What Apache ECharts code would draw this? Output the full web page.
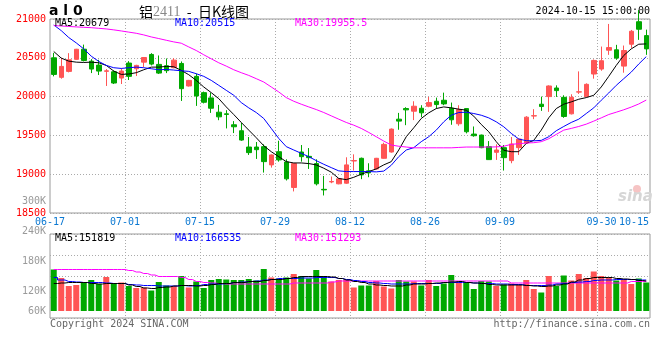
<!DOCTYPE html>
<html><head><meta charset="utf-8">
<script src="https://cdn.jsdelivr.net/npm/echarts@6/dist/echarts.min.js"></script>
<style>html,body{margin:0;padding:0;background:#fff}#c{width:660px;height:360px}</style>
</head><body><div id="c"></div>
<script>
// ---------- data ----------
const dates = ['06-17','06-18','06-19','06-20','06-21','06-24','06-25','06-26','06-27','06-28',
'07-01','07-02','07-03','07-04','07-05','07-08','07-09','07-10','07-11','07-12',
'07-15','07-16','07-17','07-18','07-19','07-22','07-23','07-24','07-25','07-26',
'07-29','07-30','07-31','08-01','08-02','08-05','08-06','08-07','08-08','08-09',
'08-12','08-13','08-14','08-15','08-16','08-19','08-20','08-21','08-22','08-23',
'08-26','08-27','08-28','08-29','08-30','09-02','09-03','09-04','09-05','09-06',
'09-09','09-10','09-11','09-12','09-13','09-18','09-19','09-20','09-23','09-24',
'09-25','09-26','09-27','09-30','10-08','10-09','10-10','10-11','10-14','10-15'];

const opens = [20500,20248,20325,20480,20611,20457,20406,20326,20320,20239,
20432,20359,20444,20543,20415,20398,20372,20427,20137,20261,
20051,19983,19799,19778,19637,19560,19350,19350,19355,19120,
19290,19158,18829,19286,19230,19137,18805,18900,18876,18884,
19170,19205,19043,19068,19205,19286,19709,19846,19812,19850,
19876,19940,19953,19850,19650,19846,19517,19504,19355,19282,
19342,19175,19342,19402,19750,19902,20000,20111,19991,19778,
20058,20000,20291,20355,20598,20603,20393,20675,20965,20786];
const closes = [20286,20389,20474,20610,20466,20355,20329,20332,20175,20329,
20261,20402,20504,20419,20303,20334,20470,20102,20209,20008,
19927,19850,19739,19770,19611,19440,19278,19316,19162,19248,
19184,18940,19137,19226,19213,18876,18798,18906,18940,19120,
19176,18991,19017,19205,19384,19581,19684,19829,19876,19791,
19923,19897,19906,19701,19833,19547,19496,19342,19188,19312,
19213,19389,19453,19735,19754,19872,20137,20077,19744,19991,
20062,20158,20466,20462,20632,20496,20594,20842,20868,20615];
const lows = [20261,20231,20312,20475,20453,20303,20278,20137,20162,20162,
20214,20265,20380,20402,20291,20303,20365,19944,20130,19880,
19912,19790,19696,19590,19530,19430,19248,19197,19021,19085,
19162,18919,18778,19162,19068,18855,18726,18884,18870,18876,
19047,18936,18961,19060,19200,19278,19573,19632,19697,19735,
19863,19846,19889,19637,19624,19526,19483,19335,19185,19184,
19047,19141,19248,19395,19709,19816,19803,19996,19727,19770,
20034,19995,20231,20333,20538,20474,20308,20628,20731,20538];
const highs = [20564,20500,20560,20615,20670,20483,20474,20355,20338,20363,
20457,20410,20508,20560,20530,20491,20496,20453,20215,20295,
20065,20051,19893,19825,19684,19662,19479,19415,19385,19255,
19431,19192,19140,19376,19337,19192,18978,18970,18950,19218,
19256,19214,19141,19210,19406,19590,19790,19863,19940,19889,
19996,19987,20051,19923,19889,19850,19615,19510,19427,19385,
19376,19479,19460,19748,19838,20000,20145,20145,20017,20030,
20325,20171,20479,20645,20936,20667,20658,20859,21115,20863];

const ma5 = [20581,20496,20457,20444,20440,20444,20436,20402,20329,20286,
20291,20308,20346,20380,20380,20389,20385,20338,20282,20209,
20124,20051,19974,19867,19769,19667,19568,19470,19367,19290,
19226,19162,19145,19145,19137,19120,19077,19026,18945,18930,
18960,19000,19034,19068,19120,19162,19312,19483,19598,19718,
19791,19846,19867,19855,19838,19825,19748,19641,19547,19419,
19308,19290,19290,19397,19436,19568,19727,19846,19902,19932,
19966,19987,20017,20124,20261,20402,20530,20615,20675,20679];
const ma10 = [20923,20850,20761,20692,20615,20521,20453,20402,20372,20363,
20372,20380,20372,20359,20346,20350,20342,20333,20325,20295,
20261,20209,20145,20081,20017,19923,19855,19795,19718,19590,
19461,19355,19312,19269,19226,19175,19128,19085,19043,19034,
19034,19034,19034,19030,19040,19115,19226,19312,19342,19419,
19483,19568,19675,19760,19795,19799,19782,19760,19726,19675,
19611,19526,19453,19432,19430,19436,19483,19560,19615,19667,
19709,19782,19855,19953,20047,20145,20231,20316,20420,20515];
const ma30 = [20915,20910,20904,20898,20893,20888,20880,20872,20860,20846,
20831,20816,20795,20769,20748,20726,20705,20688,20640,20594,
20539,20487,20436,20393,20346,20308,20273,20231,20188,20124,
20060,19987,19940,19902,19867,19833,19795,19752,19709,19667,
19632,19590,19538,19483,19427,19376,19360,19350,19340,19340,
19340,19340,19340,19340,19345,19350,19350,19350,19350,19352,
19360,19385,19393,19402,19406,19419,19457,19513,19568,19590,
19615,19645,19684,19726,19769,19799,19830,19865,19905,19955.5];

// volumes, in thousands (K)
const volumesK = [163,146,130,132,137,142,134,148,135,137,
130,126,127,121,138,131,130,150,127,139,
126,142,144,143,142,142,144,141,164,147,
145,147,154,150,145,162,150,139,142,142,
127,131,131,140,129,125,142,139,139,131,
142,130,135,152,139,137,124,140,139,130,
133,135,132,142,124,117,150,130,151,141,
154,146,159,150,147,141,143,134,145,137];
const volMa5K = [135,136,137,137,137,135,134,135,135,135,
132,129,126,125,127,128,130,131,131,130,
131,133,135,135,137,137,139,139,141,143,
143,145,147,149,149,149,149,148,145,142,
139,137,134,132,131,130,130,132,134,134,
135,136,137,138,139,137,136,135,133,132,
132,132,132,131,130,129,130,132,134,138,
142,145,147,147,147,145,144,143,141,140];
const volMa10K = [147,142,139,138,137,137,137,136,135,135,
133,132,131,131,130,130,130,131,130,131,
133,134,134,135,137,138,139,140,142,143,
145,145,145,146,146,147,147,147,145,143,
141,139,137,136,135,134,134,134,135,135,
135,135,137,137,137,137,136,135,135,134,
134,133,133,131,131,131,132,134,135,137,
138,139,141,142,142,143,143,143,142,142];
const volMa30K = [163,163,163,163,163,163,163,163,163,163,
161,158,155,152,149,149,149,147,143,139,
137,136,135,134,134,134,134,134,134,134,
134,134,136,136,136,136,136,138,140,140,
140,140,140,140,140,140,140,140,140,140,
140,140,140,140,140,140,140,140,140,140,
140,136,136,136,136,136,136,136,136,136,
136,136,136,136,136,136,136,139,139,139];

const priceMin = 18500, priceMax = 21000, priceStep = 500;
const volLabelTicksK = [60, 120, 180, 240, 300];
const dateTickIdx = [0, 10, 20, 30, 40, 50, 60, 73];
const maPriceText = ['MA5:20679', 'MA10:20515', 'MA30:19955.5'];
const maVolText = ['MA5:151819', 'MA10:166535', 'MA30:151293'];

// ---------- chart ----------
const RED = '#ff5555', GREEN = '#00a800', BLUE = '#0a78d2';
const MONO = "'DejaVu Sans Mono', monospace";
const dotted = {show: true, lineStyle: {color: '#aaaaaa', type: [1, 2], width: 1}};

const n = dates.length;
// boundary tick labels: n+1 boundaries, last one is the right edge (last date)
const boundaryLabels = [];
for (let k = 0; k <= n; k++) {
  if (k === n) boundaryLabels.push(dates[n - 1]);
  else boundaryLabels.push(dateTickIdx.includes(k) ? dates[k] : '');
}
const splitAt = (i) => i > 0 && i < n && boundaryLabels[i] !== '';

const candleData = dates.map((d, i) => [opens[i], closes[i], lows[i], highs[i]]);

const chart = echarts.init(document.getElementById('c'), null, {renderer: 'canvas'});
chart.setOption({
  animation: false,
  backgroundColor: '#ffffff',
  grid: [
    {left: 50, top: 19, width: 600, height: 194, show: true, borderColor: '#9a9a9a', borderWidth: 1},
    {left: 50, top: 231, width: 600, height: 80},
    {left: 50, top: 234, width: 600, height: 84, show: true, borderColor: '#9a9a9a', borderWidth: 1},
    {left: 50, top: 201, width: 600, height: 120}
  ],
  xAxis: [
    {type: 'category', gridIndex: 0, data: dates, boundaryGap: true, show: false, position: 'bottom'},
    {type: 'category', gridIndex: 0, data: boundaryLabels, boundaryGap: false, position: 'bottom',
      axisLine: {show: false}, axisTick: {show: false},
      axisLabel: {interval: (i, v) => v !== '', color: BLUE, fontFamily: MONO, fontSize: 10, margin: 4,
        formatter: (v, i) => i === n ? '{r|' + v + '}' : (i === dateTickIdx[dateTickIdx.length - 1] ? '{s|' + v + '}' : v),
        rich: {r: {padding: [0, 32, 0, 0], color: BLUE, fontFamily: MONO, fontSize: 10},
               s: {padding: [0, 0, 0, 8], color: BLUE, fontFamily: MONO, fontSize: 10}}},
      splitLine: Object.assign({interval: splitAt}, dotted)},
    {type: 'category', gridIndex: 1, data: dates, boundaryGap: true, show: false, position: 'bottom'},
    {type: 'category', gridIndex: 2, data: boundaryLabels, boundaryGap: false, position: 'bottom',
      axisLine: {show: false}, axisTick: {show: false}, axisLabel: {show: false},
      splitLine: Object.assign({interval: splitAt}, dotted)},
    {type: 'category', gridIndex: 3, data: dates, show: false, position: 'bottom'}
  ],
  yAxis: [
    {type: 'value', gridIndex: 0, min: priceMin, max: priceMax, interval: priceStep,
      axisLine: {show: false}, axisTick: {show: false},
      axisLabel: {color: '#ff0000', fontFamily: MONO, fontSize: 10, margin: 4, formatter: (v) => String(v)},
      splitLine: dotted},
    {type: 'value', gridIndex: 1, min: 80, max: 240, show: false},
    {type: 'value', gridIndex: 2, min: 0, max: 4, interval: 1,
      axisLine: {show: false}, axisTick: {show: false}, axisLabel: {show: false}, splitLine: dotted},
    {type: 'value', gridIndex: 3, min: volLabelTicksK[0], max: volLabelTicksK[volLabelTicksK.length - 1],
      interval: volLabelTicksK[1] - volLabelTicksK[0],
      axisLine: {show: false}, axisTick: {show: false}, splitLine: {show: false},
      axisLabel: {color: '#9a9a9a', fontFamily: MONO, fontSize: 10, margin: 4,
        formatter: (v) => v === volLabelTicksK[0] ? '{u|' + v + 'K}' : v + 'K',
        rich: {u: {padding: [0, 0, 20, 0], color: '#9a9a9a', fontFamily: MONO, fontSize: 10}}}}
  ],
  series: [
    {type: 'candlestick', xAxisIndex: 0, yAxisIndex: 0, data: candleData, barWidth: 5, clip: false,
      itemStyle: {color: RED, color0: GREEN, borderColor: RED, borderColor0: GREEN, borderWidth: 1}},
    {type: 'line', xAxisIndex: 0, yAxisIndex: 0, data: ma5, symbol: 'none', silent: true,
      lineStyle: {color: '#000000', width: 1}, z: 5},
    {type: 'line', xAxisIndex: 0, yAxisIndex: 0, data: ma10, symbol: 'none', silent: true,
      lineStyle: {color: '#0000ff', width: 1}, z: 5},
    {type: 'line', xAxisIndex: 0, yAxisIndex: 0, data: ma30, symbol: 'none', silent: true,
      lineStyle: {color: '#ff00ff', width: 1}, z: 5},
    {type: 'bar', xAxisIndex: 2, yAxisIndex: 1, data: volumesK, barWidth: 6, clip: true,
      itemStyle: {color: (p) => closes[p.dataIndex] >= opens[p.dataIndex] ? RED : GREEN}},
    {type: 'line', xAxisIndex: 2, yAxisIndex: 1, data: volMa30K, symbol: 'none', step: 'middle',
      lineStyle: {color: '#ff00ff', width: 1}, z: 5},
    {type: 'line', xAxisIndex: 2, yAxisIndex: 1, data: volMa10K, symbol: 'none', step: 'middle',
      lineStyle: {color: '#0000ff', width: 1}, z: 5},
    {type: 'line', xAxisIndex: 2, yAxisIndex: 1, data: volMa5K, symbol: 'none', step: 'middle',
      lineStyle: {color: '#000000', width: 1}, z: 5}
  ],
  graphic: [
    {type: 'text', left: 49, top: 4, style: {text: 'a l 0', font: "bold 14px 'DejaVu Sans'", fill: '#000'}},
    {type: 'text', x: 194, y: 12, style: {
      text: '{a|铝}{b|2411}{a|  -  日K线图}', align: 'center', verticalAlign: 'middle',
      rich: {a: {fontFamily: "'Noto Sans CJK SC'", fontSize: 14, fill: '#000'},
             b: {fontFamily: "'Liberation Serif'", fontSize: 14, fill: '#888'}}}},
    {type: 'text', x: 650, y: 11.5, style: {text: '2024-10-15 15:00:00', align: 'right', verticalAlign: 'middle',
      font: "10px 'DejaVu Sans Mono'", fill: '#000'}},
    {type: 'text', x: 55, y: 23.5, z: 10, style: {text: maPriceText[0], verticalAlign: 'middle', font: "10px 'DejaVu Sans Mono'", fill: '#000'}},
    {type: 'text', x: 175, y: 23.5, z: 10, style: {text: maPriceText[1], verticalAlign: 'middle', font: "10px 'DejaVu Sans Mono'", fill: '#0000ff'}},
    {type: 'text', x: 295, y: 23.5, z: 10, style: {text: maPriceText[2], verticalAlign: 'middle', font: "10px 'DejaVu Sans Mono'", fill: '#ff00ff'}},
    {type: 'text', x: 55, y: 238.5, z: 10, style: {text: maVolText[0], verticalAlign: 'middle', font: "10px 'DejaVu Sans Mono'", fill: '#000'}},
    {type: 'text', x: 175, y: 238.5, z: 10, style: {text: maVolText[1], verticalAlign: 'middle', font: "10px 'DejaVu Sans Mono'", fill: '#0000ff'}},
    {type: 'text', x: 295, y: 238.5, z: 10, style: {text: maVolText[2], verticalAlign: 'middle', font: "10px 'DejaVu Sans Mono'", fill: '#ff00ff'}},
    {type: 'text', x: 50, y: 324, style: {text: 'Copyright 2024 SINA.COM', verticalAlign: 'middle', font: "10px 'DejaVu Sans Mono'", fill: '#666'}},
    {type: 'text', x: 650, y: 324, style: {text: 'http://finance.sina.com.cn', align: 'right', verticalAlign: 'middle', font: "10px 'DejaVu Sans Mono'", fill: '#666'}},
    {type: 'circle', shape: {cx: 637, cy: 189, r: 4}, style: {fill: '#f6c4c4'}, z: 0},
    {type: 'text', x: 618, y: 197, z: 0, style: {text: 'sina', verticalAlign: 'middle', font: "italic bold 15px 'DejaVu Sans'", fill: '#d6d6d6'}}
  ]
});
</script></body></html>
